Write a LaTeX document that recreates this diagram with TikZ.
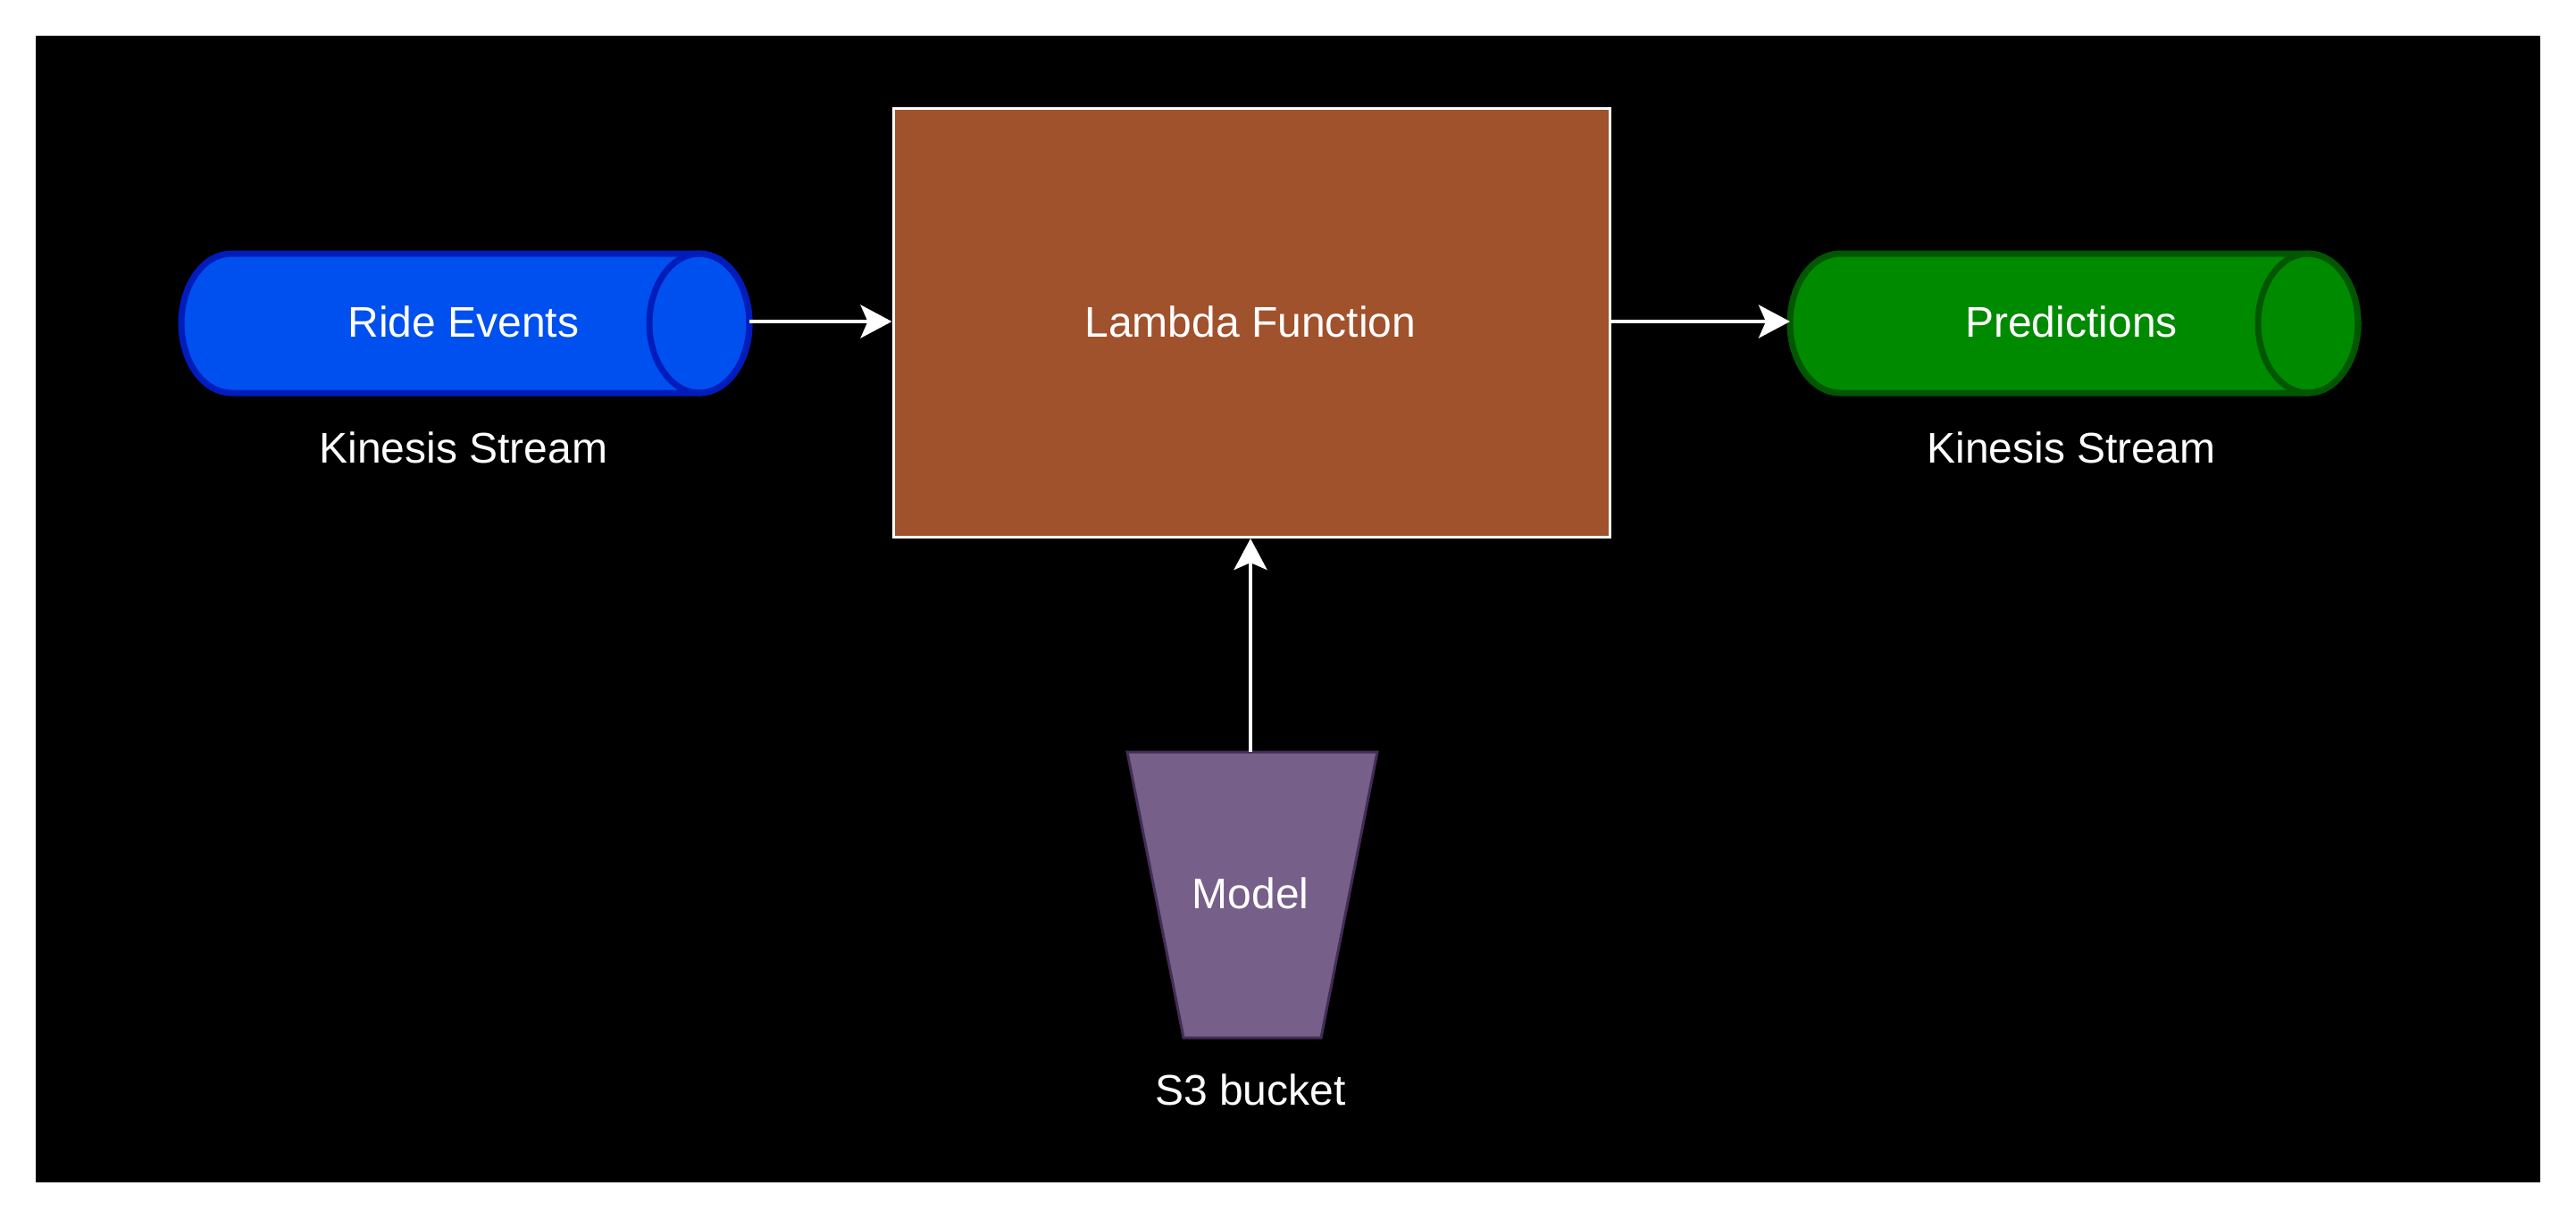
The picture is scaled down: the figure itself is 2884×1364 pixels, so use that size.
\documentclass[tikz,border=0pt]{standalone}
\usepackage{fontspec}
\setmainfont{Liberation Sans}
\usetikzlibrary{arrows.meta}
\definecolor{bluefill}{HTML}{0050EF}
\definecolor{bluedraw}{HTML}{001DBC}
\definecolor{greenfill}{HTML}{008A00}
\definecolor{greendraw}{HTML}{005700}
\definecolor{lambdafill}{HTML}{A0522D}
\definecolor{modelfill}{HTML}{76608A}
\definecolor{modeldraw}{HTML}{432D57}
\tikzset{
  lbl/.style={text=white, font=\fontsize{12pt}{14pt}\selectfont, inner sep=0pt},
  ghost/.style={draw=none, inner sep=0pt, outer sep=0pt},
  conn/.style={draw=white, line width=1pt, -{Stealth[length=8.75pt, width=9.25pt, inset=2pt]}},
}
\begin{document}
\begin{tikzpicture}[x=0.25pt, y=-0.25pt]
\useasboundingbox (0,0) rectangle (2884,1364);
\fill[white] (0,0) rectangle (2884,1364);
\fill[black] (40,40) rectangle (2844,1324);

% Ride Events cylinder
\node[ghost, minimum width=159pt, minimum height=39pt] (ride) at (521,362) {};
\begin{scope}[line width=1.75pt]
\path[fill=bluefill, draw=bluedraw]
  (259,284) -- (783,284) arc[start angle=-90, end angle=90, x radius=56, y radius=78]
  -- (259,440) arc[start angle=90, end angle=270, x radius=56, y radius=78] -- cycle;
\draw[bluedraw] (783,362) ellipse[x radius=56, y radius=78];
\end{scope}
\node[lbl] (ridetxt) at (519,360) {Ride Events};
\node[lbl] (ridelbl) at (519,501) {Kinesis Stream};

% Predictions cylinder
\node[ghost, minimum width=159pt, minimum height=39pt] (pred) at (2322,362) {};
\begin{scope}[line width=1.75pt]
\path[fill=greenfill, draw=greendraw]
  (2060,284) -- (2584,284) arc[start angle=-90, end angle=90, x radius=56, y radius=78]
  -- (2060,440) arc[start angle=90, end angle=270, x radius=56, y radius=78] -- cycle;
\draw[greendraw] (2584,362) ellipse[x radius=56, y radius=78];
\end{scope}
\node[lbl] (predtxt) at (2319,360) {Predictions};
\node[lbl] (predlbl) at (2319,501) {Kinesis Stream};

% Lambda
\node[draw=white, fill=lambdafill, line width=0.75pt, minimum width=200.5pt, minimum height=120pt, inner sep=0pt] (lambda) at (1401,361.5) {};
\node[lbl] (lambdatxt) at (1400,360) {Lambda Function};

% Model trapezoid
\path[fill=modelfill, draw=modeldraw, line width=0.75pt]
  (1262,842) -- (1542,842) -- (1479,1162) -- (1325,1162) -- cycle;
\node[ghost, minimum width=70pt, minimum height=80pt] (model) at (1402,1002) {};
\node[lbl] (modeltxt) at (1400,1000) {Model};
\node[lbl] (s3lbl) at (1400,1220) {S3 bucket};

% connectors
\draw[conn] (ride.east) ++(0,-2) -- (lambda.west |- 0,360);
\draw[conn] (lambda.east |- 0,360) -- (pred.west |- 0,360);
\draw[conn] (1400,842) -- (lambda.south -| 1400,0);
\end{tikzpicture}
\end{document}
